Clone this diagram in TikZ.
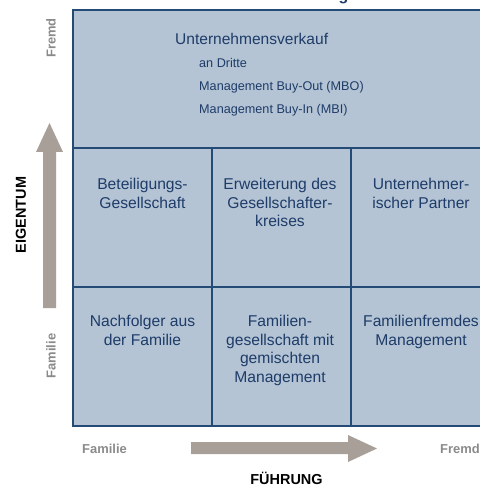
\documentclass[tikz,border=0pt]{standalone}
\usepackage{fontspec}
\setmainfont{Liberation Sans}
\definecolor{cellfill}{RGB}{180,196,212}
\definecolor{gridline}{RGB}{36,74,118}
\definecolor{celltext}{RGB}{30,60,105}
\definecolor{axisgray}{RGB}{138,138,138}
\definecolor{arrowtaupe}{RGB}{168,159,152}
\begin{document}
\begin{tikzpicture}[x=1bp,y=-1bp,
  celllabel/.style={anchor=north, align=center, inner sep=0pt, text=celltext,
    font=\fontsize{15.7}{18.7}\selectfont},
  headline/.style={anchor=base west, inner sep=0pt, text=celltext,
    font=\fontsize{15.6}{18}\selectfont},
  subitem/.style={anchor=base west, inner sep=0pt, text=celltext,
    font=\fontsize{12.7}{14}\selectfont},
  axisend/.style={inner sep=0pt, text=axisgray, font=\bfseries\fontsize{13}{15}\selectfont},
  axisname/.style={inner sep=0pt, text=black, font=\bfseries\fontsize{14.5}{16}\selectfont},
  gridstroke/.style={draw=gridline, line width=1.3bp},
  blockarrow/.style={fill=arrowtaupe}
]
\useasboundingbox (0,0) rectangle (480,486);

% heading above the matrix (only its lowest part lies on the page)
\node[anchor=base, inner sep=0pt, text=celltext, font=\bfseries\fontsize{16}{18}\selectfont]
  (heading) at (343.5,0.6) {g};

% the 3x3 matrix with a merged top row
\path[gridstroke, fill=cellfill] (73,10) rectangle (490,426);
\draw[gridstroke] (73,148) -- (490,148);
\draw[gridstroke] (73,287) -- (490,287);
\draw[gridstroke] (212,148) -- (212,426);
\draw[gridstroke] (351,148) -- (351,426);

% top row: sale of the company
\node[headline] (verkauf) at (175,45) {Unternehmensverkauf};
\node[subitem] (dritte) at (199,67.5) {an Dritte};
\node[subitem] (mbo) at (199,90.5) {Management Buy-Out (MBO)};
\node[subitem] (mbi) at (199,113.5) {Management Buy-In (MBI)};

% middle row
\node[celllabel] (beteiligung) at (142.5,178) {Beteiligungs-\\Gesellschaft};
\node[celllabel] (erweiterung) at (280,178) {Erweiterung des\\Gesellschafter-\\kreises};
\node[celllabel] (partner) at (421,178) {Unternehmer-\\ischer Partner};

% bottom row
\node[celllabel] (nachfolger) at (142.5,315) {Nachfolger aus\\der Familie};
\node[celllabel] (gemischt) at (280,315) {Familien-\\gesellschaft mit\\gemischten\\Management};
\node[celllabel] (fremdmgmt) at (421,315) {Familienfremdes\\Management};

% vertical axis: ownership
\fill[blockarrow] (43,308) -- (43,152) -- (36,152) -- (49.5,123) -- (63,152)
  -- (56,152) -- (56,308) -- cycle;
\node[axisend, rotate=90] (eigenFremd) at (51,38) {Fremd};
\node[axisend, rotate=90] (eigenFamilie) at (51,356) {Familie};
\node[axisname, rotate=90] (eigentum) at (21,215) {EIGENTUM};

% horizontal axis: management
\fill[blockarrow] (191,442) -- (348,442) -- (348,435) -- (377,448.5) -- (348,462)
  -- (348,454) -- (191,454) -- cycle;
\node[axisend, anchor=base west] (fuehrFamilie) at (82,453) {Familie};
\node[axisend, anchor=base west] (fuehrFremd) at (440,453) {Fremd};
\node[axisname, anchor=base] (fuehrung) at (286.5,484) {FÜHRUNG};
\end{tikzpicture}
\end{document}
